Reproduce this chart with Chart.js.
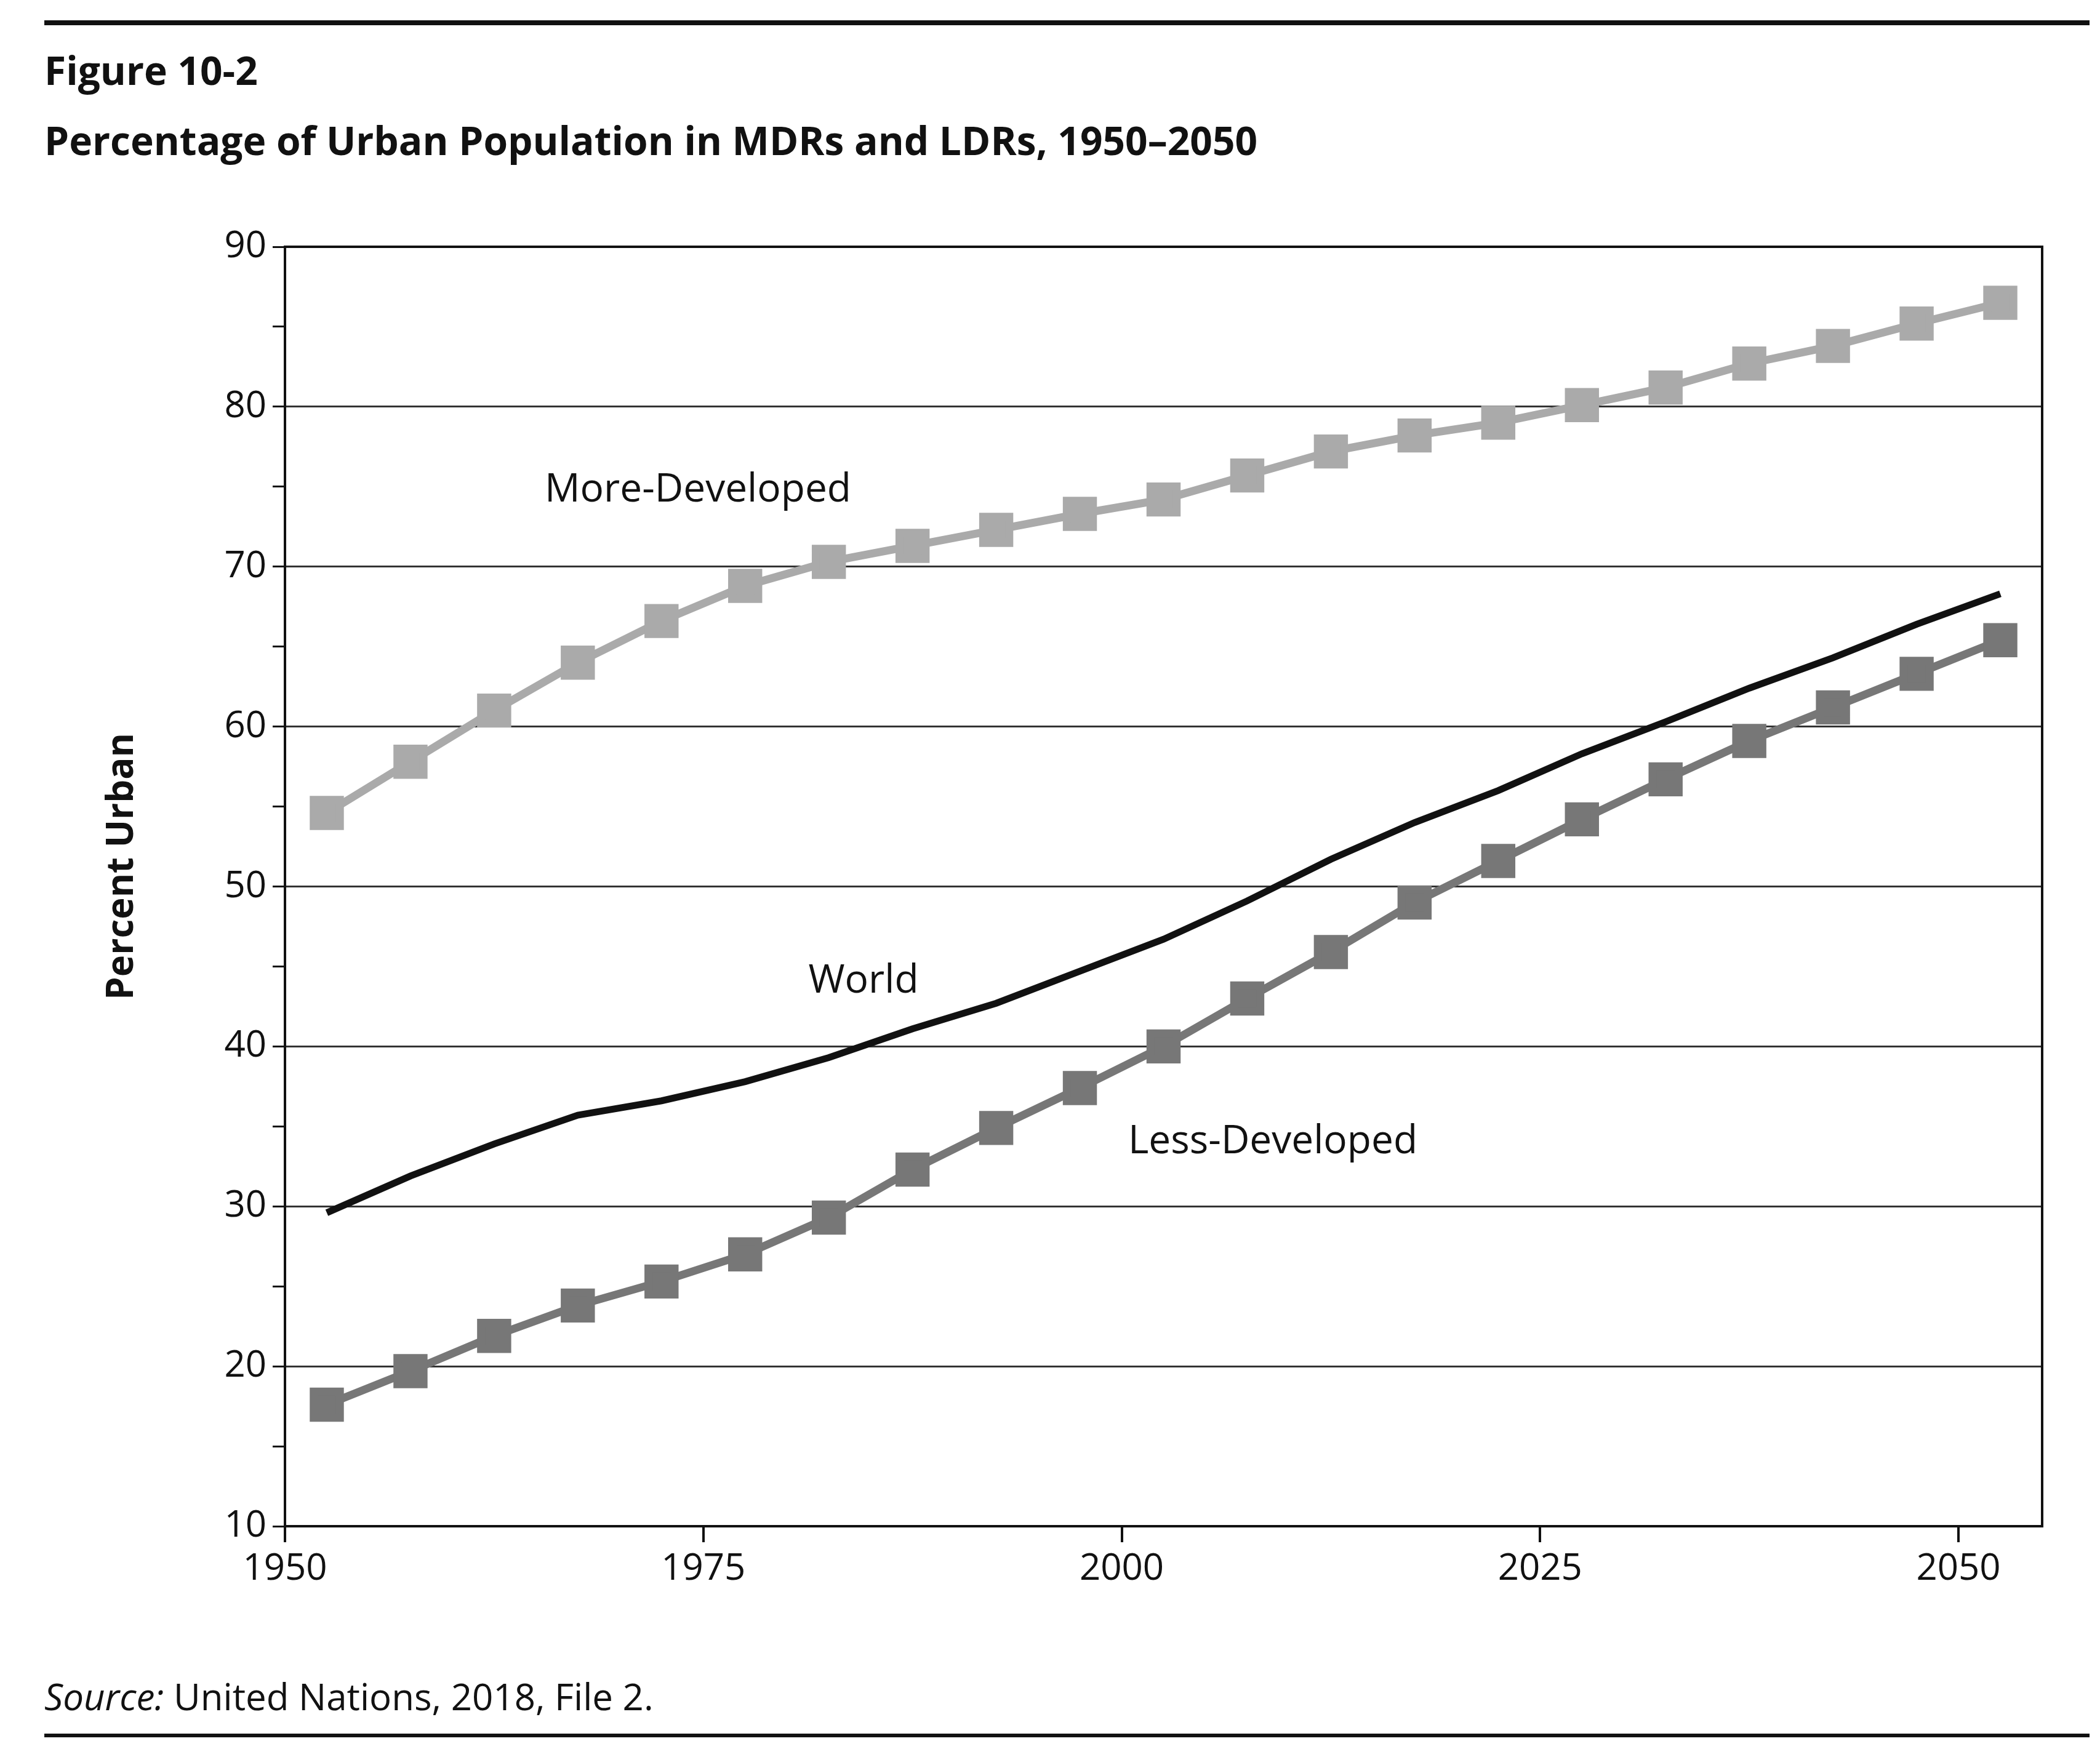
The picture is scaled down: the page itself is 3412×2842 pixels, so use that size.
<!DOCTYPE html>
<html>
<head>
<meta charset="utf-8">
<script src="https://cdn.jsdelivr.net/npm/chart.js@4.4.0/dist/chart.umd.min.js"></script>
<style>
  html, body { margin: 0; padding: 0; background: #fff; }
  body { width: 3412px; height: 2842px; position: relative; overflow: hidden; font-family: "Open Sans", sans-serif; color: #111; }
  #c { position: absolute; left: 0; top: 0; }
  .rule { position: absolute; left: 72px; width: 3323px; background: #111; }
  .txt { position: absolute; white-space: nowrap; }
  .lbl { position: absolute; white-space: nowrap; transform: translate(-50%, -50%); font-size: 64px; }
</style>
</head>
<body>
<div class="rule" style="top:33px;height:8px"></div>
<div class="txt" style="left:72px;top:70px;font-size:64px;font-weight:700">Figure 10-2</div>
<div class="txt" style="left:72px;top:184px;font-size:64px;font-weight:700">Percentage of Urban Population in MDRs and LDRs, 1950–2050</div>
<div class="txt" style="left:193px;top:1408px;font-size:60px;font-weight:700;transform:translate(-50%,-50%) rotate(-90deg)">Percent Urban</div>
<div class="lbl" style="left:1134px;top:790px">More-Developed</div>
<div class="lbl" style="left:1403px;top:1588px">World</div>
<div class="lbl" style="left:2068px;top:1849px">Less-Developed</div>
<div class="txt" style="left:72px;top:2715px;font-size:60px"><i>Source:</i> United Nations, 2018, File 2.</div>
<div class="rule" style="top:2817px;height:6px"></div>
<canvas id="c" width="3412" height="2842"></canvas>
<script>
const years = [1952.5, 1957.5, 1962.5, 1967.5, 1972.5, 1977.5, 1982.5, 1987.5, 1992.5, 1997.5, 2002.5,
               2007.5, 2012.5, 2017.5, 2022.5, 2027.5, 2032.5, 2037.5, 2042.5, 2047.5, 2052.5];
const moreDeveloped = [54.6, 57.8, 61.0, 64.0, 66.6, 68.8, 70.3, 71.3, 72.3, 73.3, 74.2,
                       75.7, 77.2, 78.2, 79.0, 80.1, 81.2, 82.7, 83.8, 85.2, 86.5];
const world = [29.6, 31.9, 33.9, 35.7, 36.6, 37.8, 39.3, 41.1, 42.7, 44.7, 46.7,
               49.1, 51.7, 54.0, 56.0, 58.3, 60.3, 62.4, 64.3, 66.4, 68.3];
const lessDeveloped = [17.6, 19.7, 21.9, 23.8, 25.3, 27.0, 29.3, 32.3, 34.9, 37.4, 40.0,
                       43.0, 45.9, 49.0, 51.6, 54.2, 56.7, 59.1, 61.2, 63.3, 65.4];
const xTicks = [1950, 1975, 2000, 2025, 2050];

const toPoints = vals => vals.map((v, i) => ({ x: years[i], y: v }));

// plot frame
const boxPlugin = {
  id: 'box',
  afterDraw(chart) {
    const a = chart.chartArea, ctx = chart.ctx;
    ctx.save();
    ctx.strokeStyle = '#111';
    ctx.lineWidth = 4;
    ctx.strokeRect(a.left, a.top, a.right - a.left, a.bottom - a.top);
    ctx.restore();
  }
};

new Chart(document.getElementById('c'), {
  type: 'line',
  data: {
    datasets: [
      { data: toPoints(moreDeveloped), borderColor: '#aaaaaa', backgroundColor: '#aaaaaa', borderWidth: 13,
        pointStyle: 'rect', pointRadius: 30, pointHoverRadius: 30, tension: 0 },
      { data: toPoints(world), borderColor: '#111111', borderWidth: 11, pointRadius: 0, tension: 0 },
      { data: toPoints(lessDeveloped), borderColor: '#777777', backgroundColor: '#777777', borderWidth: 13,
        pointStyle: 'rect', pointRadius: 30, pointHoverRadius: 30, tension: 0 }
    ]
  },
  options: {
    responsive: false,
    devicePixelRatio: 1,
    animation: false,
    layout: { padding: { left: 0, top: 401, right: 94, bottom: 0 } },
    plugins: { legend: { display: false }, tooltip: { enabled: false } },
    scales: {
      x: {
        type: 'linear', min: 1950, max: 2055,
        afterBuildTicks: s => { s.ticks = xTicks.map(v => ({ value: v })); },
        afterFit: s => { s.height = 362; },
        ticks: { color: '#111', font: { family: 'Open Sans', size: 60 }, padding: 8, callback: v => String(v) },
        grid: { drawOnChartArea: false, tickLength: 26, tickColor: '#111', lineWidth: 4 },
        border: { color: '#111', width: 4 }
      },
      y: {
        min: 10, max: 90,
        afterFit: s => { s.width = 463; },
        ticks: { stepSize: 5, color: '#111', font: { family: 'Open Sans', size: 60 }, padding: 10,
                 callback: v => (v % 10 === 0 ? String(v) : '') },
        grid: {
          tickLength: 20, lineWidth: 3,
          color: c => (c.tick && c.tick.value % 10 === 0 ? '#333' : 'rgba(0,0,0,0)'),
          tickColor: '#111'
        },
        border: { color: '#111', width: 4 }
      }
    }
  },
  plugins: [boxPlugin]
});
</script>
</body>
</html>
